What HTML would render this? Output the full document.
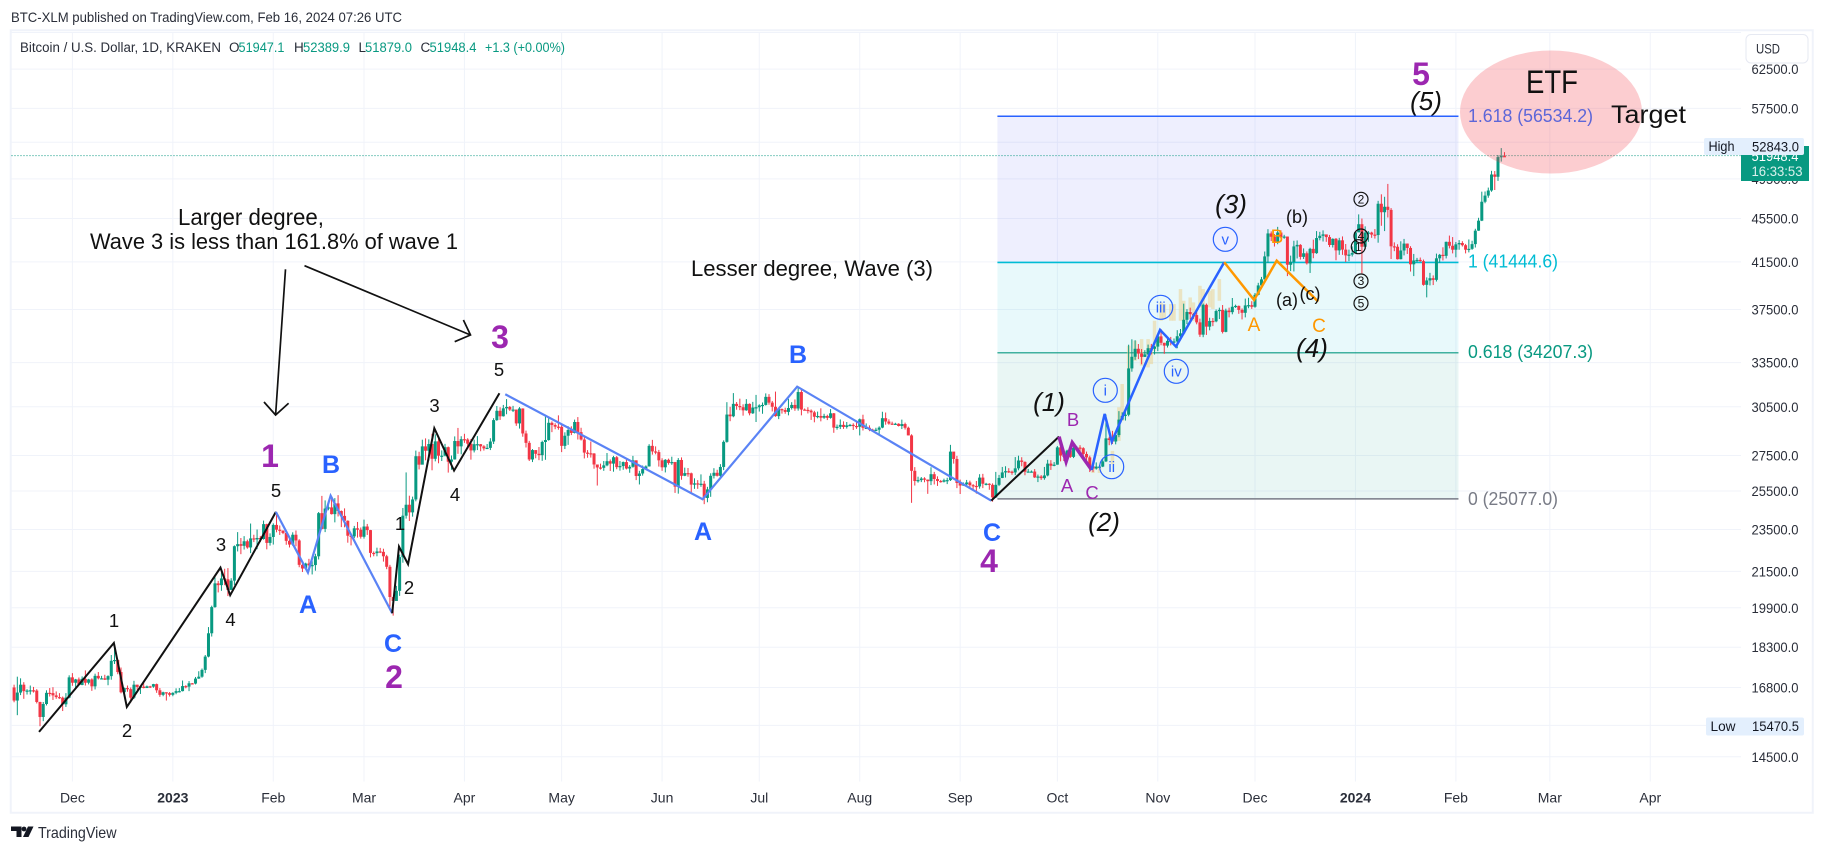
<!DOCTYPE html>
<html lang="en"><head><meta charset="utf-8"><title>BTC-XLM TradingView chart</title>
<style>
html,body{margin:0;padding:0;background:#fff}
svg{display:block}
text{font-family:"Liberation Sans",sans-serif}
.ax{font-size:14px;fill:#2a2e39}
.big{font-weight:bold;font-size:32px;fill:#9c27b0;text-anchor:middle}
.abc{font-weight:bold;font-size:25px;fill:#2962ff;text-anchor:middle}
.num{font-size:18.5px;fill:#111;text-anchor:middle}
.it{font-style:italic;font-size:26px;fill:#111;text-anchor:middle}
.pur{font-size:18.5px;fill:#9c27b0;text-anchor:middle}
.org{font-size:19px;fill:#ff9800;text-anchor:middle}
.rom{font-size:15px;fill:#2962ff;text-anchor:middle}
.cir{fill:none;stroke:#2962ff;stroke-width:1.2}
.bc{fill:none;stroke:#111;stroke-width:1.2}
.bn{font-size:12px;fill:#111;text-anchor:middle}
.fib{font-size:18px}
.green{fill:#089981}
</style></head>
<body>
<svg id="chart" xmlns="http://www.w3.org/2000/svg" width="1824" height="852" viewBox="0 0 1824 852">
<rect width="1824" height="852" fill="#fff"/>
<text x="11" y="22" font-size="14" fill="#2a2e39" textLength="391" lengthAdjust="spacingAndGlyphs">BTC-XLM published on TradingView.com, Feb 16, 2024 07:26 UTC</text>
<rect x="10.750" y="30.250" width="1802" height="782.500" fill="#fff" stroke="#f0f3fa" stroke-width="2"/>
<g id="grid"></g>
<g id="fib"></g>
<g id="ghost"></g>
<g id="candles"></g>
<g id="last"></g>
<g id="waves"></g>

<ellipse cx="1551" cy="112" rx="91" ry="61.5" fill="#f23645" fill-opacity=".25"/>
<g class="fib">
<text x="1468" y="122" fill="#5d66d8" textLength="125" lengthAdjust="spacingAndGlyphs">1.618 (56534.2)</text>
<text x="1468" y="267.500" fill="#00bcd4" textLength="90" lengthAdjust="spacingAndGlyphs">1 (41444.6)</text>
<text x="1468" y="358" fill="#089981" textLength="125" lengthAdjust="spacingAndGlyphs">0.618 (34207.3)</text>
<text x="1468" y="505" fill="#787b86" textLength="90" lengthAdjust="spacingAndGlyphs">0 (25077.0)</text>
</g>

<text x="1526" y="93" font-size="32" fill="#111" textLength="52" lengthAdjust="spacingAndGlyphs">ETF</text>
<text x="1611" y="123" font-size="25" fill="#111" textLength="75" lengthAdjust="spacingAndGlyphs">Target</text>

<g>
<text x="178" y="225" font-size="23" fill="#111" textLength="146" lengthAdjust="spacingAndGlyphs">Larger degree,</text>
<text x="90" y="249" font-size="22.500" fill="#111" textLength="368" lengthAdjust="spacingAndGlyphs">Wave 3 is less than 161.8% of wave 1</text>
</g>
<text x="691" y="276" font-size="22" fill="#111" textLength="242" lengthAdjust="spacingAndGlyphs">Lesser degree, Wave (3)</text>

<g fill="none" stroke="#111" stroke-width="1.7">
<path d="M285.5 269.3L275.6 415M264 402L275.6 415L288.6 403.3"/>
<path d="M304.5 265.7L470.5 335M463.4 320L470.5 335L454.7 341.7"/>
</g>

<g>
<text class="big" x="270" y="467">1</text>
<text class="big" x="394" y="688">2</text>
<text class="big" x="500" y="348">3</text>
<text class="big" x="989" y="572">4</text>
<text class="big" x="1421" y="85">5</text>
</g>
<g>
<text class="abc" x="308" y="613">A</text>
<text class="abc" x="331" y="473">B</text>
<text class="abc" x="393" y="652">C</text>
<text class="abc" x="703" y="540">A</text>
<text class="abc" x="798" y="363">B</text>
<text class="abc" x="992" y="541">C</text>
</g>
<g>
<text class="num" x="114" y="627">1</text>
<text class="num" x="127" y="737">2</text>
<text class="num" x="221" y="551">3</text>
<text class="num" x="230.500" y="626">4</text>
<text class="num" x="276" y="497">5</text>
<text class="num" x="400" y="530">1</text>
<text class="num" x="409" y="594">2</text>
<text class="num" x="434.500" y="412">3</text>
<text class="num" x="455" y="501">4</text>
<text class="num" x="499" y="376">5</text>
</g>
<g>
<text class="it" x="1049" y="411">(1)</text>
<text class="it" x="1104" y="531">(2)</text>
<text class="it" x="1231" y="213">(3)</text>
<text class="it" x="1312" y="357">(4)</text>
<text class="it" x="1426" y="110">(5)</text>
</g>
<g>
<text class="pur" x="1067" y="492">A</text>
<text class="pur" x="1073" y="426">B</text>
<text class="pur" x="1092" y="499">C</text>
<text class="org" x="1254" y="331">A</text>
<text class="org" x="1277" y="243">B</text>
<text class="org" x="1319" y="332">C</text>
<text x="1287" y="306" font-size="18" fill="#111" text-anchor="middle">(a)</text>
<text x="1297" y="223" font-size="18" fill="#111" text-anchor="middle">(b)</text>
<text x="1310" y="300" font-size="18" fill="#111" text-anchor="middle">(c)</text>
</g>
<g>
<circle class="cir" cx="1105.300" cy="390.300" r="12"/><text class="rom" x="1105.300" y="395.500">i</text>
<circle class="cir" cx="1111.700" cy="466.700" r="12"/><text class="rom" x="1111.700" y="472">ii</text>
<circle class="cir" cx="1160.700" cy="307.300" r="12"/><text class="rom" x="1160.700" y="312.500">iii</text>
<circle class="cir" cx="1176.300" cy="371.300" r="12"/><text class="rom" x="1176.300" y="376.500">iv</text>
<circle class="cir" cx="1225.300" cy="239.300" r="12"/><text class="rom" x="1225.300" y="244.500">v</text>
</g>
<g>
<circle class="bc" cx="1361" cy="199.300" r="7"/><text class="bn" x="1361" y="203.500">2</text>
<circle class="bc" cx="1361" cy="236" r="7"/><text class="bn" x="1361" y="240.200">4</text>
<circle class="bc" cx="1358.300" cy="246.700" r="7"/><text class="bn" x="1358.300" y="251">1</text>
<circle class="bc" cx="1361" cy="281" r="7"/><text class="bn" x="1361" y="285.200">3</text>
<circle class="bc" cx="1361" cy="303.300" r="7"/><text class="bn" x="1361" y="307.500">5</text>
</g>

<g id="legend" font-size="13.500">
<text x="20" y="52" fill="#2a2e39" textLength="201" lengthAdjust="spacingAndGlyphs">Bitcoin / U.S. Dollar, 1D, KRAKEN</text>
<text x="229" y="52" fill="#2a2e39">O</text><text class="green" x="238.500" y="52" textLength="46" lengthAdjust="spacingAndGlyphs">51947.1</text>
<text x="294" y="52" fill="#2a2e39">H</text><text class="green" x="303" y="52" textLength="47" lengthAdjust="spacingAndGlyphs">52389.9</text>
<text x="358.500" y="52" fill="#2a2e39">L</text><text class="green" x="365" y="52" textLength="47" lengthAdjust="spacingAndGlyphs">51879.0</text>
<text x="420.500" y="52" fill="#2a2e39">C</text><text class="green" x="429.500" y="52" textLength="47" lengthAdjust="spacingAndGlyphs">51948.4</text>
<text class="green" x="485" y="52" textLength="80" lengthAdjust="spacingAndGlyphs">+1.3 (+0.00%)</text>
</g>

<g id="axis"></g>
<g id="timeaxis"></g>

<g>
<rect x="1741" y="146" width="68" height="35" fill="#089981"/>
<text x="1751.500" y="161" font-size="14" fill="#fff" textLength="47" lengthAdjust="spacingAndGlyphs">51948.4</text>
<text x="1751.500" y="176" font-size="14" fill="#fff" fill-opacity=".85" textLength="51" lengthAdjust="spacingAndGlyphs">16:33:53</text>
<rect x="1704" y="138" width="100" height="17" rx="2" fill="#e3effd"/>
<text x="1708.500" y="151" font-size="14" fill="#131722" textLength="26" lengthAdjust="spacingAndGlyphs">High</text>
<text x="1752" y="151.500" font-size="14" fill="#131722" textLength="47" lengthAdjust="spacingAndGlyphs">52843.0</text>
<rect x="1706" y="717.500" width="98" height="18" rx="2" fill="#e3effd"/>
<text x="1710.500" y="731" font-size="14" fill="#131722" textLength="25" lengthAdjust="spacingAndGlyphs">Low</text>
<text x="1752" y="731" font-size="14" fill="#131722" textLength="47" lengthAdjust="spacingAndGlyphs">15470.5</text>
</g>

<g>
<rect x="1746" y="34.500" width="62" height="28.500" rx="5" fill="#fff" stroke="#e6e9f2"/>
<text x="1756" y="53.500" font-size="14" fill="#2a2e39" textLength="24" lengthAdjust="spacingAndGlyphs">USD</text>
</g>

<g fill="#131722">
<path d="M11 826.500h10.500v10.500h-5v-6h-5.500z"/>
<circle cx="24" cy="829" r="2.400"/>
<path d="M28 826.500h5.500l-5 10.500h-5.500z"/>
<text x="38" y="838" font-size="16" fill="#2a2e39" textLength="78.500" lengthAdjust="spacingAndGlyphs">TradingView</text>
</g>
</svg>

<script>
// ---- chart data: daily candles from 2022-11-12 to 2024-02-16 ----
const firstDayOffset = -19; // first candle, counted in days from 2022-12-01
const firstOpen = 16800;
const closes = [
16800,16340,16620,16900,16670,16690,16700,16690,16290,15780,16220,16610,16600,16520,16460,16440,16210,16440,17165,
16970,17090,16890,17110,16970,17090,16840,17220,17130,17130,17080,17210,17780,17810,17360,16630,16780,16740,16440,16900,16820,16830,16780,16840,16830,16920,16700,16540,16630,16600,16540,
16610,16670,16670,16850,16830,16950,16940,17120,17190,17440,17940,18850,19930,20960,20880,21180,21140,20670,21080,22680,22780,22700,22920,22620,23060,23010,23080,23030,23770,22840,23130,
23730,23490,23440,23330,22940,22760,23240,22960,21800,21630,21860,21780,21790,22200,24330,23530,24570,24630,24280,24840,24440,24190,23940,23190,23160,23560,23490,23140,
23650,23470,22360,22350,22430,22410,22200,21710,20360,20190,20630,22160,24200,24770,24370,25050,27460,26970,28040,27780,28180,27310,28340,27490,27490,27990,27140,27270,28360,28040,28470,
28450,28200,27800,28170,28170,28040,27920,27950,28330,29650,30240,29890,30400,30490,30320,30320,29440,30390,28820,28250,27270,27820,27600,27520,28300,28420,29480,29340,29240,29230,
28070,28680,29030,28850,29530,28900,28450,27670,27630,27620,26980,26810,26790,26930,27170,27030,27400,26830,26890,27120,26750,26850,27220,26330,26470,26720,26870,28070,27740,27700,27220,
26820,27250,27070,27120,25740,27240,26340,26490,26480,25850,25920,25900,25900,25130,25590,26340,26510,26340,26840,28310,30000,29890,30690,30550,30470,30270,30690,30080,30450,30470,
30590,30620,31150,30770,30500,29900,30350,30290,30170,30420,30620,30390,31470,30320,30300,30250,30140,29860,29910,29800,29910,29790,30080,29180,29230,29350,29220,29320,29350,29280,29230,
29700,29170,29170,29050,29040,29050,29180,29770,29560,29430,29400,29420,29280,29400,29170,28700,26620,26050,26100,26190,26130,26040,26430,26160,26050,26010,26090,26100,27730,27300,25940,
25800,25870,25970,25820,25780,25750,26240,25900,25900,25840,25160,25840,26220,26530,26600,26570,26530,26760,27210,27130,26570,26580,26580,26250,26300,26210,26360,27030,26910,26970,
27980,27500,27430,27790,27420,27950,27970,27930,27590,27390,26880,26750,26860,26860,27160,28520,28420,28330,28720,29680,29920,29990,33090,33920,34500,34150,33910,34090,34540,34500,34660,
35420,34940,34730,35080,35040,35040,35430,35650,36690,37310,37130,37060,36490,35550,37880,36160,36600,36570,37380,37470,35760,37420,37290,37720,37790,37470,37240,37830,37850,37720,
38690,39470,39980,41980,44080,43770,43290,44170,43720,43790,41240,41490,42880,43020,41940,42260,41370,42660,42270,43650,43860,43990,43740,43010,43580,42520,43440,42590,42070,42140,42280,
44180,44950,42850,44160,44160,43970,43930,46950,46110,46650,46340,42890,42850,41730,42510,43140,42740,41280,41620,41670,41560,39520,39890,40080,39940,41810,42120,42030,43300,42940,42580,
43070,43190,42990,42580,42660,43090,44340,45290,47150,47770,48290,49960,49720,51840,51950,51948];
const highs = [
17080,16900,17190,17130,16990,16740,16870,16820,16740,16300,16290,16700,16780,16810,16660,16600,16480,16600,17240,
17320,17110,17160,17200,17420,17110,17130,17300,17360,17220,17260,17240,18000,18370,17850,17530,16800,16870,16800,17040,16900,16860,16950,16870,16860,16930,16940,16780,16650,16630,16640,
16630,16770,16780,17050,16880,17030,16960,17180,17390,17490,18000,19100,19990,21230,21070,21450,21620,21650,21190,22720,23370,23080,23170,23000,23800,23240,23500,23180,23950,23790,23310,
23810,24240,23700,23460,23440,23160,23360,23450,23020,21900,21900,22080,21990,22320,24390,25240,25000,24890,25190,25120,25280,24470,24580,23960,23220,23680,23880,23600,
24000,23780,23480,22430,22610,22600,22560,22270,21800,20340,20850,22280,24600,26530,25250,25200,27790,27720,28440,28520,28460,28800,28770,28650,27800,28190,28030,27500,28640,29160,28650,
28800,28530,28480,28440,28660,28180,28110,28180,28530,29770,30550,30470,30620,31000,30550,30560,30320,30480,30400,28990,28370,27880,27800,28000,28380,30000,29880,29570,29450,29950,
29340,28890,29270,29260,29680,29840,29170,28640,27820,28330,27640,26970,27030,27180,27650,27270,27480,27470,27180,27150,27270,26950,27480,27220,26620,26920,26930,28170,28430,28040,27830,
27340,27290,27320,27430,27130,27350,27390,26800,26780,26520,26200,26100,26420,26060,25730,26480,26770,26680,27000,28400,30800,30500,31400,30810,31030,30660,31000,30720,30820,31280,
30660,30780,31380,31330,30880,31500,30450,30390,30440,31020,30800,30980,31810,31640,30390,30470,30330,30240,30190,30400,30050,29990,30350,30100,29370,29690,29570,29530,29410,29450,29530,
29750,29990,29440,29320,29110,29170,29260,30180,30130,29700,29550,29480,29450,29680,29490,29240,28770,26830,26290,26270,26260,26130,26820,26560,26310,26110,26180,26230,28130,27570,27480,
26130,25970,26110,26070,25880,26050,26430,26450,25950,25930,25920,26560,26390,26840,26880,26770,26630,27410,27490,27400,27160,26730,26640,26720,26410,26380,26840,27250,27230,27120,
28060,28600,27670,27840,28130,28010,28050,28110,27990,27730,27490,26950,27100,26960,27290,30000,28620,28980,28880,30220,30150,30200,34800,35200,35130,34850,34480,34400,34810,34860,34710,
35600,35980,34940,35260,35380,35260,35890,35980,37970,37530,37650,37230,37400,36780,37980,37980,36850,36830,37500,37650,37860,37570,37650,38430,37890,37820,37590,38380,38450,38170,
38840,39690,40190,42420,44480,44270,44020,44700,44370,43950,43790,42050,43400,43430,43090,42700,42430,42760,43500,44300,44230,44370,43790,43940,43620,43650,43670,43800,43100,42590,42880,
44220,45900,45500,44750,44300,44240,44490,47240,47900,47650,48970,46520,43250,43080,43350,43570,43150,42900,42200,41850,41880,41700,40150,40540,40320,42230,42200,42800,43320,43880,43740,
43290,43460,43360,43110,43520,43400,44520,45570,48170,48190,48590,50350,50330,52040,52843,52389.9];
const lows = [
16750,16280,15840,16530,16400,16550,16550,16620,16240,15470.5,15640,16170,16480,16360,16400,16400,15980,16120,16420,
16860,16780,16860,16880,16870,16910,16680,16730,17090,17090,17070,16880,17080,17660,17280,16590,16580,16650,16270,16400,16720,16570,16770,16780,16780,16790,16610,16470,16490,16340,16480,
16490,16560,16620,16660,16770,16670,16910,16910,17110,17150,17320,17910,18720,19900,20560,20630,20880,20400,20670,20880,22430,22300,22520,22560,22350,22880,22540,22880,23000,22530,22710,
22760,23360,23230,23270,22750,22620,22700,22680,21690,21470,21610,21620,21360,21530,22050,23510,23370,24480,24260,23860,24160,23620,23610,22850,22720,23070,23100,23050,
23050,23230,22150,22200,22200,22350,21950,21600,19950,19570,20280,20410,21900,24050,23930,24150,24950,26700,27000,27220,27200,26650,27160,27050,27180,27450,26520,26680,27260,27600,27570,
28250,27900,27260,27680,27820,27750,27790,27880,27820,28180,29600,29660,29870,30020,30230,30160,29290,29120,28620,27970,27180,27120,27340,27230,27190,27250,28380,28900,29080,29050,
27700,27880,28130,28720,28820,28450,28390,27330,27370,27380,26740,25800,26690,26620,26880,26610,26570,26710,26630,26680,26700,26510,26800,26100,25860,26350,26720,26860,27550,27570,26860,
26620,26530,26970,26960,25400,25360,26120,26320,26290,25360,25620,25620,25730,24800,24900,25190,26190,26300,26270,26660,28260,29580,29830,30310,30280,29930,30240,29950,30040,29530,
30190,30050,30580,30630,30200,29860,29710,30060,30050,29950,30320,30240,30250,29950,30260,30070,29660,29510,29760,29570,29730,29650,29740,28860,29050,29090,29100,29120,29260,29030,29100,
28700,29000,29090,28960,28980,28960,28750,29140,29360,29360,29350,29370,29250,29090,29060,28700,24870,25800,25960,25990,25980,25350,25820,25860,25780,25960,25970,25880,26050,27030,25660,
25340,25780,25810,25640,25570,25360,25630,25660,25810,25570,24930,25130,25770,26210,26240,26500,26400,26380,26650,26880,26370,26540,26520,26220,25990,26110,26120,26310,26670,26880,
26970,27160,27180,27220,27360,27350,27860,27680,27280,27150,26550,26550,26690,26810,26830,27120,28110,28180,28160,28590,29660,29620,29890,32860,33700,33750,33380,33900,34060,34090,34080,
34330,34760,34130,34590,34750,34750,34540,35110,35550,36350,36730,36760,36340,35380,35360,35530,35880,36200,36500,36750,35640,35730,36880,37120,37630,37160,36720,36880,37600,37550,
37640,38650,39300,39960,41400,43370,42870,43080,43600,43580,40260,40690,40660,41800,41700,41750,41260,40530,41820,42210,43440,43330,43300,42820,42780,41640,42120,42120,41480,41560,41970,
42260,44200,40500,42630,43300,43670,43600,43220,44800,44300,45600,41750,42450,41700,41720,42070,42200,40650,40260,41450,41510,39450,38480,39470,39500,39800,41410,41620,41800,42700,42250,
41900,42580,42870,42250,42340,42570,42780,44320,45250,47000,47550,48160,48340,49290,51350,51879];

const priceTicks = [62500,57500,53500,49500,45500,41500,37500,33500,30500,27500,25500,23500,21500,19900,18300,16800,15500,14500];
const monthLabels = ["Dec","2023","Feb","Mar","Apr","May","Jun","Jul","Aug","Sep","Oct","Nov","Dec","2024","Feb","Mar","Apr"];
const monthDays = [0,31,62,90,121,151,182,212,243,274,304,335,365,396,427,456,487];

const lastPrice = 51948.4;
const fibPrices = [56534.2,41444.6,34207.3,25077];
const fibColors = ["#2962ff","#00bcd4","#089981","#787b86"];
const fibWidths = [1.5,1.6,1.1,1.5];
const fibFills = ["rgba(62,80,240,.09)","rgba(0,188,212,.09)","rgba(8,153,129,.09)"];
const fibStartDay = 285.5;
const fibEndDay = 427.8;

// hand-drawn wave segments, [days since 2022-12-01] and prices
const wave1Days = [-10.3,12.8,16.8,45.7,48.7,62.8];
const wave1Prices = [15287,18468,16120,21671,20438,24395];
const wave2Days = [62.8,72.7,79.7,98.7];
const wave2Prices = [24395,21445,25253,19670];
const wave3Days = [98.7,100.8,103.6,111.7,117.8,131.8];
const wave3Prices = [19670,22661,21830,29140,26630,31391];
const wave4Days = [133.6,194.5,223.7,283.6];
const wave4Prices = [31323,25061,31835,24986];
const minor1Days = [283.6,304.5];
const minor1Prices = [24986,28626];
const minor2Days = [304.5,306.7,308.6,314.6];
const minor2Prices = [28626,27145,28263,26670];
const minor3Days = [314.6,318.6,320.8,335.7,340.6,355.5];
const minor3Prices = [26670,30040,28323,35910,34660,41465];
const minor4Days = [355.5,364.7,371.7,384.5];
const minor4Prices = [41465,38270,41600,38135];

// beige projected bars pattern
const ghostDays = [315,317,321,323,324,326,328,330,332,333,334,336,337,339,340,342,343,345,346,348,349,351,352,354];
const ghostHighs = [26800,26800,27771,30469,32012,34720,35094,35217,35217,34720,36616,38072,37937,37937,37937,39164,38205,38476,38072,39440,39164,39025,39164,40007];
const ghostLows = [26500,26500,26998,28364,29600,32236,33632,33278,33160,33396,34354,36616,36749,36616,36616,36616,36616,37405,36616,37673,37270,37673,37540,38200];

// ---- axis functions ----
const SVGNS = "http://www.w3.org/2000/svg";
function xOf(day){ return 72.4 + 3.24 * day; }
function yOf(price){ return 116.3 + (Math.log(56534.2) - Math.log(price)) * 470.7; }
function make(tag, parentId){
  const el = document.createElementNS(SVGNS, tag);
  document.getElementById(parentId).appendChild(el);
  return el;
}
function setAll(el, o){ for (const k in o) el.setAttribute(k, o[k]); }

// grid and axis labels
const topRule = make("line", "grid");


setAll(topRule, {x1:11.5, x2:1741, y1:32.5, y2:32.5, stroke:"#f0f3fa", "stroke-width":1});
priceTicks.forEach(function(p){
  const g = make("line", "grid");
  
  
  setAll(g, {x1:11.5, x2:1741, y1:yOf(p), y2:yOf(p), stroke:"#f0f3fa", "stroke-width":1});
  const t = make("text", "axis");
  
  
  setAll(t, {x:1751.5, y:yOf(p)+5, class:"ax", textLength:47, lengthAdjust:"spacingAndGlyphs"});
  t.textContent = p.toFixed(1);
});
monthDays.forEach(function(d, i){
  const g = make("line", "grid");
  
  
  setAll(g, {x1:xOf(d), x2:xOf(d), y1:32, y2:781.5, stroke:"#f0f3fa", "stroke-width":1});
  const t = make("text", "timeaxis");
  
  
  setAll(t, {x:xOf(d), y:802.5, class:"ax", "text-anchor":"middle"});
  if (/^20/.test(monthLabels[i])) t.setAttribute("font-weight", "bold");
  t.textContent = monthLabels[i];
});

// fibonacci zones and levels
fibFills.forEach(function(f, i){
  const r = make("rect", "fib");
  
  
  setAll(r, {x:xOf(fibStartDay), width:xOf(fibEndDay)-xOf(fibStartDay), y:yOf(fibPrices[i]), height:yOf(fibPrices[i+1])-yOf(fibPrices[i]), fill:f});
});
fibPrices.forEach(function(p, i){
  const l = make("line", "fib");
  
  
  setAll(l, {x1:xOf(fibStartDay), x2:xOf(fibEndDay), y1:yOf(p), y2:yOf(p), stroke:fibColors[i], "stroke-width":fibWidths[i]});
});

// beige bars pattern
ghostDays.forEach(function(d, i){
  const r = make("rect", "ghost");
  
  
  setAll(r, {x:xOf(d)-1.75, width:3.5, y:yOf(ghostHighs[i]), height:yOf(ghostLows[i])-yOf(ghostHighs[i]), fill:"#eccf8c", "fill-opacity":.5});
});

// candles
closes.forEach(function(c, i){
  const o = i === 0 ? firstOpen : closes[i-1];
  const x = xOf(firstDayOffset + i);
  if (x < 11.5) return;
  const col = c >= o ? "#089981" : "#f23645";
  const w = make("line", "candles");
  
  
  setAll(w, {x1:x, x2:x, y1:yOf(highs[i]), y2:yOf(lows[i]), stroke:col, "stroke-width":1});
  const b = make("rect", "candles");
  
  
  const top = Math.min(yOf(o), yOf(c));
  setAll(b, {x:x-1.5, width:3, y:top, height:Math.max(1.2, Math.abs(yOf(o)-yOf(c))), fill:col});
});

// last price line
const lp = make("line", "last");


setAll(lp, {x1:11.5, x2:1741, y1:yOf(lastPrice)-0.5, y2:yOf(lastPrice)-0.5, stroke:"#089981", "stroke-width":1, "stroke-dasharray":"1 2"});

// wave polylines
function drawWave(days, prices, color, width, name){
  const pl = make("polyline", "waves");
  
  
  setAll(pl, {points:days.map(function(d, i){ return xOf(d)+","+yOf(prices[i]); }).join(" "), fill:"none", stroke:color, "stroke-width":width, "stroke-linejoin":"miter"});
}
drawWave(wave1Days, wave1Prices, "#111", 2, "wave-1-impulse");
drawWave(wave2Days, wave2Prices, "#5a83f5", 2.2, "wave-2-correction");
drawWave(wave3Days, wave3Prices, "#111", 2, "wave-3-impulse");
drawWave(wave4Days, wave4Prices, "#5a83f5", 2.2, "wave-4-correction");
drawWave(minor1Days, minor1Prices, "#111", 2, "minor-wave-1");
drawWave(minor2Days, minor2Prices, "#9c27b0", 3.5, "minor-wave-2");
drawWave(minor3Days, minor3Prices, "#2962ff", 2.5, "minor-wave-3");
drawWave(minor4Days, minor4Prices, "#ff9800", 2.5, "minor-wave-4");
</script>
</body></html>
